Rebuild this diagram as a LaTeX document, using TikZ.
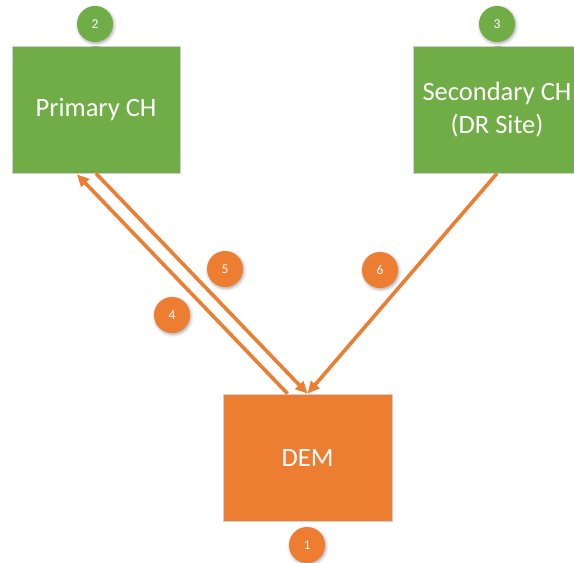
\documentclass[tikz,border=0pt]{standalone}
\usepackage{fontspec}
\setmainfont{Carlito}
\usetikzlibrary{arrows.meta,shadows.blur,calc}
\definecolor{chgreen}{HTML}{70AD47}
\definecolor{demorange}{HTML}{ED7D31}
\definecolor{edgegrey}{HTML}{D0D0D0}
\begin{document}
\begin{tikzpicture}[x=1pt,y=-1pt,
  chbox/.style={fill=chgreen,draw=edgegrey,line width=0.8pt,minimum width=168pt,minimum height=127pt,
    text=white,font=\fontsize{26.5}{33}\selectfont,align=center,inner sep=0pt},
  dembox/.style={chbox,fill=demorange,minimum width=169pt},
  badge/.style={circle,minimum size=36pt,inner sep=0pt,text=white,font=\fontsize{13.5}{13.5}\selectfont,
    blur shadow={shadow xshift=1pt,shadow yshift=-1.5pt,shadow blur radius=3pt,shadow opacity=35}},
  greenbadge/.style={badge,fill=chgreen},
  orangebadge/.style={badge,fill=demorange},
  flow/.style={draw=demorange,line width=3.6pt,-{Triangle[length=12pt,width=11pt]}}]
\useasboundingbox (0,0) rectangle (574,563);
\clip (0,0) rectangle (574,563);

% boxes
\node[chbox] (pch) at (96,109.5) {Primary CH};
\node[chbox] (sch) at (497,109.5) {Secondary CH\\(DR Site)};
\node[dembox] (dem) at (307.5,457.5) {DEM};

% step numbers
\node[orangebadge] (n1) at (307,545) {1};
\node[greenbadge] (n2) at (95,24) {2};
\node[greenbadge] (n3) at (497,24) {3};
\node[orangebadge] (n4) at (172,315) {4};
\node[orangebadge] (n5) at (225,269) {5};
\node[orangebadge] (n6) at (380,270) {6};

% message flows
\coordinate (demout) at ($(dem.north)+(-20,0)$);
\coordinate (pchin) at ($(pch.south)+(-19,1)$);
\draw[flow] (demout) -- (pchin);
\draw[flow] (pch.south) -- (dem.north);
\draw[flow] (sch.south) -- (dem.north);
\end{tikzpicture}
\end{document}
